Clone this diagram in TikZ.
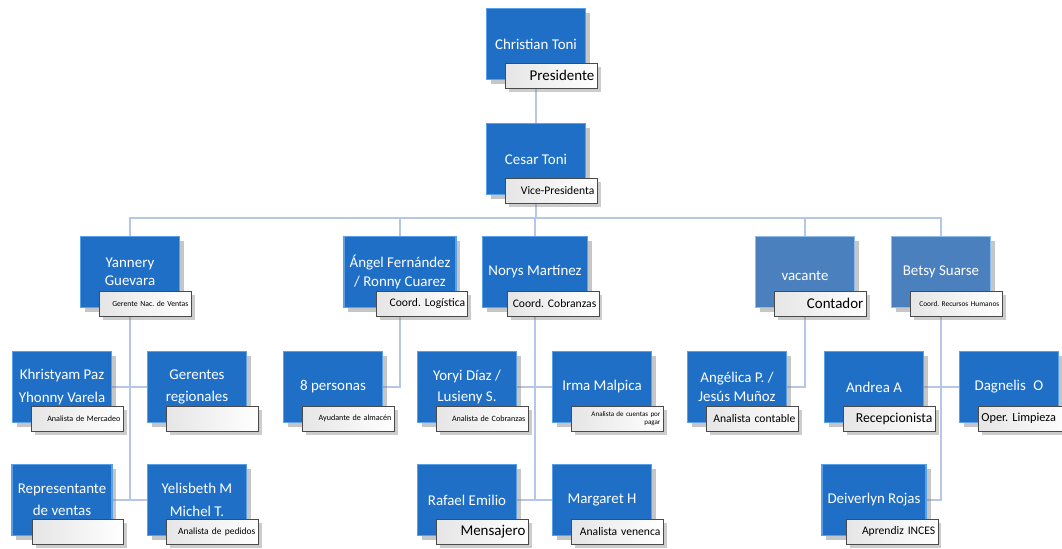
\documentclass[tikz,border=0pt]{standalone}
\usepackage{fontspec}
\setmainfont{Carlito}
\usepackage{xcolor}
\usepackage{tikz}
\usetikzlibrary{positioning,calc,shadows,backgrounds}
\definecolor{oblue}{HTML}{1F6FC6}
\definecolor{oedge}{HTML}{5AA0E8}
\definecolor{ovac}{HTML}{4A80BE}
\definecolor{ovacedge}{HTML}{8FBDEB}
\definecolor{oline}{HTML}{B4C7E7}
\definecolor{otag}{HTML}{4A4A4A}
\frenchspacing

\begin{document}
\begin{tikzpicture}[
    x=0.02cm, y=-0.02cm,
    person/.style={rectangle, draw=oedge, line width=1pt, fill=oblue, minimum width=1.98cm, minimum height=1.42cm, text=white, align=center, font={\fontsize{8.5}{10.5}\selectfont}, drop shadow={opacity=0.45}},
    vacant/.style={person, draw=ovacedge, fill=ovac},
    rolebox/.style={rectangle, draw=otag, line width=0.4pt, left color=gray!20, right color=white, minimum height=0.5cm, text width=1.72cm, inner xsep=1.5pt, inner ysep=1pt, align=right, anchor=south east, font={\fontsize{8.5}{9}\selectfont}, drop shadow={opacity=0.4, shadow xshift=2pt, shadow yshift=-2pt}},
    smallrole/.style={rolebox, font={\fontsize{4.6}{5.2}\selectfont}},
    midrole/.style={rolebox, font={\fontsize{6.6}{7.5}\selectfont}},
    conn/.style={draw=oline, line width=1.3pt}
]
    \useasboundingbox (0,0) rectangle (1062,548);

    % Direction
    \node[person] (pres) at (536,44) {Christian Toni};
    \node[rolebox] (presR) at ([shift={(11,8)}]pres.south east) {Presidente};
    \node[person] (vice) at (536,159) {Cesar Toni};
    \node[midrole] (viceR) at ([shift={(11,8)}]vice.south east) {Vice-Presidenta};

    % Coordinators
    \node[person] (yannery) at (130,272) {Yannery\\Guevara};
    \node[smallrole, font={\fontsize{4.4}{5}\selectfont}] (yanneryR) at ([shift={(11,8)}]yannery.south east) {Gerente Nac. de Ventas};
    \node[person] (angel) at (400,272) {Ángel Fernández\\/ Ronny Cuarez};
    \node[midrole] (angelR) at ([shift={(11,8)}]angel.south east) {Coord. Logística};
    \node[person] (norys) at (535,272) {Norys Martínez};
    \node[midrole] (norysR) at ([shift={(11,8)}]norys.south east) {Coord. Cobranzas};
    \node[vacant] (vacante) at (805,272) {\raisebox{-10pt}{vacante}};
    \node[rolebox] (vacanteR) at ([shift={(11,8)}]vacante.south east) {Contador};
    \node[vacant] (betsy) at (941,272) {Betsy Suarse};
    \node[smallrole, font={\fontsize{4.2}{5}\selectfont}] (betsyR) at ([shift={(11,8)}]betsy.south east) {Coord. Recursos Humanos};

    % Ventas
    \node[person] (khris) at (62,387) {Khristyam Paz\\[3pt]Yhonny Varela};
    \node[smallrole] (khrisR) at ([shift={(11,8)}]khris.south east) {Analista de Mercadeo};
    \node[person] (gerentes) at (197,387) {Gerentes\\[2pt]regionales};
    \node[rolebox] (gerentesR) at ([shift={(11,8)}]gerentes.south east) {};
    \node[person] (repr) at (62,500) {Representante\\[2pt]de ventas};
    \node[rolebox] (reprR) at ([shift={(11,8)}]repr.south east) {};
    \node[person] (yelis) at (197,500) {Yelisbeth M\\[3pt]Michel T.};
    \node[smallrole, font={\fontsize{5.4}{6}\selectfont}] (yelisR) at ([shift={(11,8)}]yelis.south east) {Analista de pedidos};

    % Logistica
    \node[person] (personas) at (333,387) {8 personas};
    \node[smallrole] (personasR) at ([shift={(11,8)}]personas.south east) {Ayudante de almacén};

    % Cobranzas
    \node[person] (yoryi) at (467,387) {Yoryi Díaz /\\[2pt]Lusieny S.};
    \node[smallrole] (yoryiR) at ([shift={(11,8)}]yoryi.south east) {Analista de Cobranzas};
    \node[person] (irma) at (602,387) {Irma Malpica};
    \node[smallrole, font={\fontsize{4}{4.6}\selectfont}] (irmaR) at ([shift={(11,8)}]irma.south east) {Analista de cuentas por\\pagar};
    \node[person] (rafael) at (467,500) {Rafael Emilio};
    \node[rolebox] (rafaelR) at ([shift={(11,8)}]rafael.south east) {Mensajero};
    \node[person] (margaret) at (602,500) {Margaret H};
    \node[midrole] (margaretR) at ([shift={(11,8)}]margaret.south east) {Analista venenca};

    % Contabilidad
    \node[person] (angelica) at (737,387) {Angélica P. /\\Jesús Muñoz};
    \node[midrole] (angelicaR) at ([shift={(11,8)}]angelica.south east) {Analista contable};

    % Recursos humanos
    \node[person] (andrea) at (874,387) {Andrea A};
    \node[rolebox, font={\fontsize{7.8}{9}\selectfont}] (andreaR) at ([shift={(11,8)}]andrea.south east) {Recepcionista};
    \node[person] (dagnelis) at (1009,387) {Dagnelis\enspace O};
    \node[rolebox, align=left, font={\fontsize{7}{8}\selectfont}] (dagnelisR) at ([shift={(11,8)}]dagnelis.south east) {Oper. Limpieza};
    \node[person] (deiver) at (874,500) {Deiverlyn Rojas};
    \node[midrole] (deiverR) at ([shift={(11,8)}]deiver.south east) {Aprendiz INCES};

    % Links
    \begin{scope}[on background layer]
        \coordinate (bus) at (536,218);
        \draw[conn] (pres.south) -- (vice.north);
        \draw[conn] (vice.south) -- (bus);
        \draw[conn] (bus) -| (yannery.north);
        \draw[conn] (bus) -| (angel.north);
        \draw[conn] (bus) -| (norys.north);
        \draw[conn] (bus) -| (vacante.north);
        \draw[conn] (bus) -| (betsy.north);
        \draw[conn] (yannery.south) -- (yannery.south |- repr.east);
        \draw[conn] (khris.east) -- (gerentes.west);
        \draw[conn] (repr.east) -- (yelis.west);
        \draw[conn] (angel.south) |- (personas.east);
        \draw[conn] (norys.south) -- (norys.south |- rafael.east);
        \draw[conn] (yoryi.east) -- (irma.west);
        \draw[conn] (rafael.east) -- (margaret.west);
        \draw[conn] (vacante.south) |- (angelica.east);
        \draw[conn] (betsy.south) |- (deiver.east);
        \draw[conn] (andrea.east) -- (dagnelis.west);
    \end{scope}
\end{tikzpicture}
\end{document}
